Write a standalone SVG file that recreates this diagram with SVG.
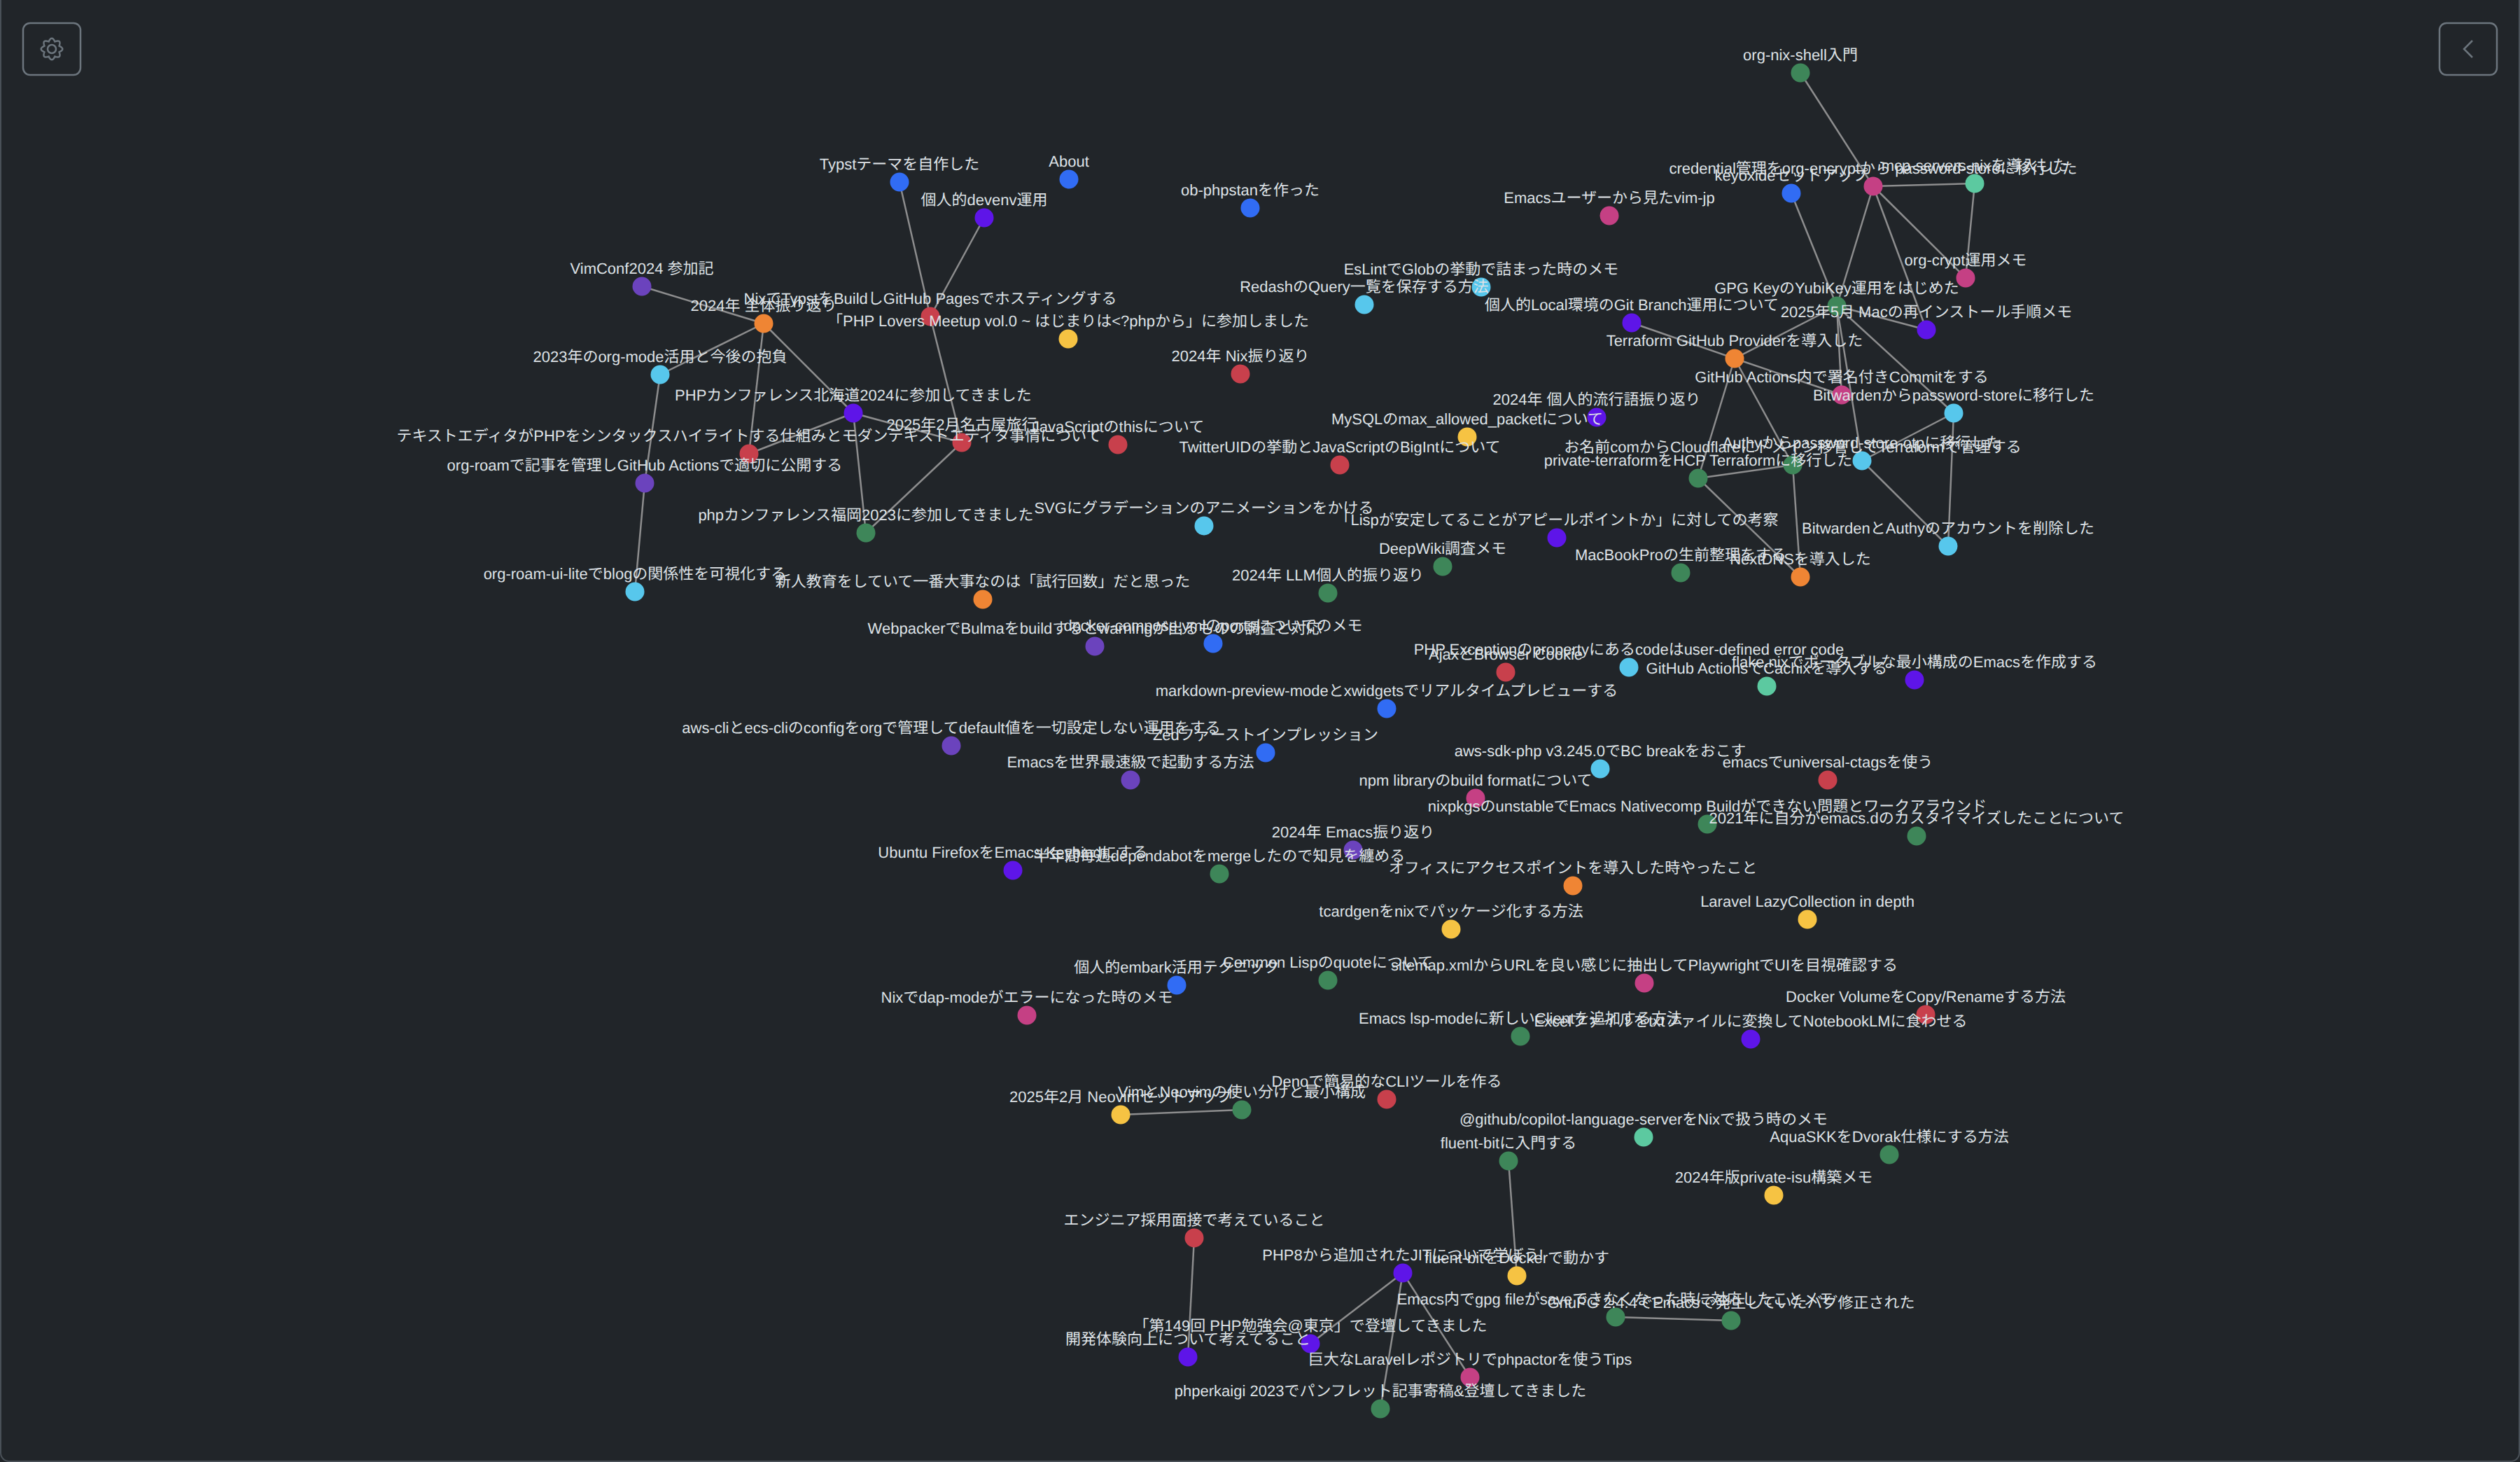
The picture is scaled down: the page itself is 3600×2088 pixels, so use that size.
<svg xmlns="http://www.w3.org/2000/svg" width="3600" height="2088" viewBox="0 0 3600 2088">
<style>
.bg{fill:#212529}
.frame{fill:none;stroke:#495057;stroke-width:2}
.btn{fill:none;stroke:#6c757d;stroke-width:2.5}
#links line{stroke:#999;stroke-width:2.5;stroke-opacity:.9}
.node circle{r:13.5px}
.node text{font-family:"Liberation Sans","Noto Sans CJK JP",sans-serif;font-size:22px;fill:#dee2e6;text-anchor:middle;text-rendering:geometricPrecision}
.blue{fill:#316cf4}.indigo{fill:#5e15e8}.purple{fill:#6b43bd}.pink{fill:#c54084}.red{fill:#c8404c}.orange{fill:#ef8534}.yellow{fill:#f6c343}.green{fill:#3e8659}.teal{fill:#5cc9a0}.cyan{fill:#57c7ec}
</style>
<rect class="bg" width="3600" height="2088"/>
<path class="frame" d="M1,0V2075a12,12 0 0 0 12,12H3587a12,12 0 0 0 12,-12V0"/>
<g id="settings-button"><rect class="btn" x="33" y="33" width="82" height="74" rx="10"/><path class="btn" transform="translate(74,70)" d="M10.6,-4.4Q20,0 10.6,4.4Q14.1,14.1 4.4,10.6Q0,20 -4.4,10.6Q-14.1,14.1 -10.6,4.4Q-20,0 -10.6,-4.4Q-14.1,-14.1 -4.4,-10.6Q0,-20 4.4,-10.6Q14.1,-14.1 10.6,-4.4Z"/><circle class="btn" cx="74" cy="70" r="6"/></g>
<g id="back-button"><rect class="btn" x="3485" y="33" width="82" height="74" rx="10"/><path class="btn" d="M3532,58L3520,70L3532,82"/></g>
<g id="links">
<line x1="917" y1="409" x2="1091" y2="462"/>
<line x1="943" y1="535" x2="1091" y2="462"/>
<line x1="1091" y1="462" x2="1070" y2="648"/>
<line x1="1091" y1="462" x2="1219" y2="590"/>
<line x1="1219" y1="590" x2="1070" y2="648"/>
<line x1="1219" y1="590" x2="1374" y2="632"/>
<line x1="1219" y1="590" x2="1237" y2="761"/>
<line x1="1374" y1="632" x2="1237" y2="761"/>
<line x1="1285" y1="260" x2="1329" y2="452"/>
<line x1="1406" y1="311" x2="1329" y2="452"/>
<line x1="1329" y1="452" x2="1374" y2="632"/>
<line x1="943" y1="535" x2="921" y2="690"/>
<line x1="921" y1="690" x2="907" y2="845"/>
<line x1="2572" y1="104" x2="2676" y2="266"/>
<line x1="2676" y1="266" x2="2821" y2="262"/>
<line x1="2821" y1="262" x2="2808" y2="397"/>
<line x1="2676" y1="266" x2="2808" y2="397"/>
<line x1="2676" y1="266" x2="2624" y2="437"/>
<line x1="2676" y1="266" x2="2752" y2="471"/>
<line x1="2559" y1="276" x2="2624" y2="437"/>
<line x1="2624" y1="437" x2="2752" y2="471"/>
<line x1="2624" y1="437" x2="2478" y2="512"/>
<line x1="2624" y1="437" x2="2631" y2="564"/>
<line x1="2624" y1="437" x2="2660" y2="658"/>
<line x1="2624" y1="437" x2="2791" y2="590"/>
<line x1="2331" y1="461" x2="2478" y2="512"/>
<line x1="2478" y1="512" x2="2631" y2="564"/>
<line x1="2478" y1="512" x2="2426" y2="683"/>
<line x1="2478" y1="512" x2="2561" y2="664"/>
<line x1="2426" y1="683" x2="2561" y2="664"/>
<line x1="2426" y1="683" x2="2572" y2="824"/>
<line x1="2561" y1="664" x2="2572" y2="824"/>
<line x1="2660" y1="658" x2="2791" y2="590"/>
<line x1="2660" y1="658" x2="2783" y2="780"/>
<line x1="2791" y1="590" x2="2783" y2="780"/>
<line x1="1601" y1="1592" x2="1774" y2="1585"/>
<line x1="2155" y1="1658" x2="2167" y2="1822"/>
<line x1="1706" y1="1768" x2="1697" y2="1938"/>
<line x1="2004" y1="1818" x2="1872" y2="1919"/>
<line x1="2004" y1="1818" x2="1972" y2="2012"/>
<line x1="2004" y1="1818" x2="2100" y2="1967"/>
<line x1="2308" y1="1881" x2="2473" y2="1886"/>
</g>
<g id="n01" class="node"><circle class="green" cx="2572" cy="104"/><text x="2572" y="86">org-nix-shell入門</text></g>
<g id="n02" class="node"><circle class="blue" cx="1527" cy="256"/><text x="1527" y="238">About</text></g>
<g id="n03" class="node"><circle class="blue" cx="1285" cy="260"/><text x="1285" y="242">Typstテーマを自作した</text></g>
<g id="n04" class="node"><circle class="teal" cx="2821" cy="262"/><text x="2821" y="244">mcp-servers-nixを導入した</text></g>
<g id="n05" class="node"><circle class="pink" cx="2676" cy="266"/><text x="2676" y="248">credential管理をorg-encryptから password-storeに移行した</text></g>
<g id="n06" class="node"><circle class="blue" cx="2559" cy="276"/><text x="2559" y="258">keyoxideセットアップ</text></g>
<g id="n07" class="node"><circle class="blue" cx="1786" cy="297"/><text x="1786" y="279">ob-phpstanを作った</text></g>
<g id="n08" class="node"><circle class="pink" cx="2299" cy="308"/><text x="2299" y="290">Emacsユーザーから見たvim-jp</text></g>
<g id="n09" class="node"><circle class="indigo" cx="1406" cy="311"/><text x="1406" y="293">個人的devenv運用</text></g>
<g id="n10" class="node"><circle class="pink" cx="2808" cy="397"/><text x="2808" y="379">org-crypt運用メモ</text></g>
<g id="n11" class="node"><circle class="purple" cx="917" cy="409"/><text x="917" y="391">VimConf2024 参加記</text></g>
<g id="n12" class="node"><circle class="cyan" cx="2116" cy="410"/><text x="2116" y="392">EsLintでGlobの挙動で詰まった時のメモ</text></g>
<g id="n13" class="node"><circle class="cyan" cx="1949" cy="435"/><text x="1949" y="417">RedashのQuery一覧を保存する方法</text></g>
<g id="n14" class="node"><circle class="green" cx="2624" cy="437"/><text x="2624" y="419">GPG KeyのYubiKey運用をはじめた</text></g>
<g id="n15" class="node"><circle class="red" cx="1329" cy="452"/><text x="1329" y="434">NixでTypstをBuildしGitHub Pagesでホスティングする</text></g>
<g id="n16" class="node"><circle class="indigo" cx="2331" cy="461"/><text x="2331" y="443">個人的Local環境のGit Branch運用について</text></g>
<g id="n17" class="node"><circle class="orange" cx="1091" cy="462"/><text x="1091" y="444">2024年 全体振り返り</text></g>
<g id="n18" class="node"><circle class="indigo" cx="2752" cy="471"/><text x="2752" y="453">2025年5月 Macの再インストール手順メモ</text></g>
<g id="n19" class="node"><circle class="yellow" cx="1526" cy="484"/><text x="1526" y="466">「PHP Lovers Meetup vol.0 ~ はじまりは&lt;?phpから」に参加しました</text></g>
<g id="n20" class="node"><circle class="orange" cx="2478" cy="512"/><text x="2478" y="494">Terraform GitHub Providerを導入した</text></g>
<g id="n21" class="node"><circle class="red" cx="1772" cy="534"/><text x="1772" y="516">2024年 Nix振り返り</text></g>
<g id="n22" class="node"><circle class="cyan" cx="943" cy="535"/><text x="943" y="517">2023年のorg-mode活用と今後の抱負</text></g>
<g id="n23" class="node"><circle class="pink" cx="2631" cy="564"/><text x="2631" y="546">GitHub Actions内で署名付きCommitをする</text></g>
<g id="n24" class="node"><circle class="indigo" cx="1219" cy="590"/><text x="1219" y="572">PHPカンファレンス北海道2024に参加してきました</text></g>
<g id="n25" class="node"><circle class="cyan" cx="2791" cy="590"/><text x="2791" y="572">Bitwardenからpassword-storeに移行した</text></g>
<g id="n26" class="node"><circle class="indigo" cx="2281" cy="596"/><text x="2281" y="578">2024年 個人的流行語振り返り</text></g>
<g id="n27" class="node"><circle class="yellow" cx="2096" cy="624"/><text x="2096" y="606">MySQLのmax_allowed_packetについて</text></g>
<g id="n28" class="node"><circle class="red" cx="1374" cy="632"/><text x="1374" y="614">2025年2月名古屋旅行</text></g>
<g id="n29" class="node"><circle class="red" cx="1597" cy="635"/><text x="1597" y="617">JavaScriptのthisについて</text></g>
<g id="n30" class="node"><circle class="red" cx="1070" cy="648"/><text x="1070" y="630">テキストエディタがPHPをシンタックスハイライトする仕組みとモダンテキストエディタ事情について</text></g>
<g id="n31" class="node"><circle class="cyan" cx="2660" cy="658"/><text x="2660" y="640">Authyからpassword-store-otpに移行した</text></g>
<g id="n32" class="node"><circle class="green" cx="2561" cy="664"/><text x="2561" y="646">お名前comからCloudflareにドメイン移管してTerraformで管理する</text></g>
<g id="n33" class="node"><circle class="red" cx="1914" cy="664"/><text x="1914" y="646">TwitterUIDの挙動とJavaScriptのBigIntについて</text></g>
<g id="n34" class="node"><circle class="green" cx="2426" cy="683"/><text x="2426" y="665">private-terraformをHCP Terraformに移行した</text></g>
<g id="n35" class="node"><circle class="purple" cx="921" cy="690"/><text x="921" y="672">org-roamで記事を管理しGitHub Actionsで適切に公開する</text></g>
<g id="n36" class="node"><circle class="cyan" cx="1720" cy="751"/><text x="1720" y="733">SVGにグラデーションのアニメーションをかける</text></g>
<g id="n37" class="node"><circle class="green" cx="1237" cy="761"/><text x="1237" y="743">phpカンファレンス福岡2023に参加してきました</text></g>
<g id="n38" class="node"><circle class="indigo" cx="2224" cy="768"/><text x="2224" y="750">「Lispが安定してることがアピールポイントか」に対しての考察</text></g>
<g id="n39" class="node"><circle class="cyan" cx="2783" cy="780"/><text x="2783" y="762">BitwardenとAuthyのアカウントを削除した</text></g>
<g id="n40" class="node"><circle class="green" cx="2061" cy="809"/><text x="2061" y="791">DeepWiki調査メモ</text></g>
<g id="n41" class="node"><circle class="green" cx="2401" cy="818"/><text x="2401" y="800">MacBookProの生前整理をする</text></g>
<g id="n42" class="node"><circle class="orange" cx="2572" cy="824"/><text x="2572" y="806">NextDNSを導入した</text></g>
<g id="n43" class="node"><circle class="cyan" cx="907" cy="845"/><text x="907" y="827">org-roam-ui-liteでblogの関係性を可視化する</text></g>
<g id="n44" class="node"><circle class="green" cx="1897" cy="847"/><text x="1897" y="829">2024年 LLM個人的振り返り</text></g>
<g id="n45" class="node"><circle class="orange" cx="1404" cy="856"/><text x="1404" y="838">新人教育をしていて一番大事なのは「試行回数」だと思った</text></g>
<g id="n46" class="node"><circle class="blue" cx="1733" cy="919"/><text x="1733" y="901">docker-compose.ymlのportsについてのメモ</text></g>
<g id="n47" class="node"><circle class="purple" cx="1564" cy="923"/><text x="1564" y="905">WebpackerでBulmaをbuildするとwarningが出るものの調査と対応</text></g>
<g id="n48" class="node"><circle class="cyan" cx="2327" cy="953"/><text x="2327" y="935">PHP Exceptionのpropertyにあるcodeはuser-defined error code</text></g>
<g id="n49" class="node"><circle class="red" cx="2151" cy="960"/><text x="2151" y="942">AjaxとBrowser Cookie</text></g>
<g id="n50" class="node"><circle class="indigo" cx="2735" cy="971"/><text x="2735" y="953">flake.nixでポータブルな最小構成のEmacsを作成する</text></g>
<g id="n51" class="node"><circle class="teal" cx="2524" cy="980"/><text x="2524" y="962">GitHub ActionsでCachixを導入する</text></g>
<g id="n52" class="node"><circle class="blue" cx="1981" cy="1012"/><text x="1981" y="994">markdown-preview-modeとxwidgetsでリアルタイムプレビューする</text></g>
<g id="n53" class="node"><circle class="purple" cx="1359" cy="1065"/><text x="1359" y="1047">aws-cliとecs-cliのconfigをorgで管理してdefault値を一切設定しない運用をする</text></g>
<g id="n54" class="node"><circle class="blue" cx="1808" cy="1075"/><text x="1808" y="1057">Zedファーストインプレッション</text></g>
<g id="n55" class="node"><circle class="cyan" cx="2286" cy="1098"/><text x="2286" y="1080">aws-sdk-php v3.245.0でBC breakをおこす</text></g>
<g id="n56" class="node"><circle class="purple" cx="1615" cy="1114"/><text x="1615" y="1096">Emacsを世界最速級で起動する方法</text></g>
<g id="n57" class="node"><circle class="red" cx="2611" cy="1114"/><text x="2611" y="1096">emacsでuniversal-ctagsを使う</text></g>
<g id="n58" class="node"><circle class="pink" cx="2108" cy="1140"/><text x="2108" y="1122">npm libraryのbuild formatについて</text></g>
<g id="n59" class="node"><circle class="green" cx="2439" cy="1177"/><text x="2439" y="1159">nixpkgsのunstableでEmacs Nativecomp Buildができない問題とワークアラウンド</text></g>
<g id="n60" class="node"><circle class="green" cx="2738" cy="1194"/><text x="2738" y="1176">2021年に自分がemacs.dのカスタイマイズしたことについて</text></g>
<g id="n61" class="node"><circle class="purple" cx="1933" cy="1214"/><text x="1933" y="1196">2024年 Emacs振り返り</text></g>
<g id="n62" class="node"><circle class="indigo" cx="1447" cy="1243"/><text x="1447" y="1225">Ubuntu FirefoxをEmacs Keybindにする</text></g>
<g id="n63" class="node"><circle class="green" cx="1742" cy="1248"/><text x="1742" y="1230">半年間毎週dependabotをmergeしたので知見を纏める</text></g>
<g id="n64" class="node"><circle class="orange" cx="2247" cy="1265"/><text x="2247" y="1247">オフィスにアクセスポイントを導入した時やったこと</text></g>
<g id="n65" class="node"><circle class="yellow" cx="2582" cy="1313"/><text x="2582" y="1295">Laravel LazyCollection in depth</text></g>
<g id="n66" class="node"><circle class="yellow" cx="2073" cy="1327"/><text x="2073" y="1309">tcardgenをnixでパッケージ化する方法</text></g>
<g id="n67" class="node"><circle class="green" cx="1897" cy="1400"/><text x="1897" y="1382">Common Lispのquoteについて</text></g>
<g id="n68" class="node"><circle class="pink" cx="2349" cy="1404"/><text x="2349" y="1386">sitemap.xmlからURLを良い感じに抽出してPlaywrightでUIを目視確認する</text></g>
<g id="n69" class="node"><circle class="blue" cx="1681" cy="1407"/><text x="1681" y="1389">個人的embark活用テクニック</text></g>
<g id="n70" class="node"><circle class="red" cx="2751" cy="1449"/><text x="2751" y="1431">Docker VolumeをCopy/Renameする方法</text></g>
<g id="n71" class="node"><circle class="pink" cx="1467" cy="1450"/><text x="1467" y="1432">Nixでdap-modeがエラーになった時のメモ</text></g>
<g id="n72" class="node"><circle class="green" cx="2172" cy="1480"/><text x="2172" y="1462">Emacs lsp-modeに新しいClientを追加する方法</text></g>
<g id="n73" class="node"><circle class="indigo" cx="2501" cy="1484"/><text x="2501" y="1466">Excelファイルをtxtファイルに変換してNotebookLMに食わせる</text></g>
<g id="n74" class="node"><circle class="red" cx="1981" cy="1570"/><text x="1981" y="1552">Denoで簡易的なCLIツールを作る</text></g>
<g id="n75" class="node"><circle class="green" cx="1774" cy="1585"/><text x="1774" y="1567">VimとNeovimの使い分けと最小構成</text></g>
<g id="n76" class="node"><circle class="yellow" cx="1601" cy="1592"/><text x="1601" y="1574">2025年2月 Neovimセットアップ</text></g>
<g id="n77" class="node"><circle class="teal" cx="2348" cy="1624"/><text x="2348" y="1606">@github/copilot-language-serverをNixで扱う時のメモ</text></g>
<g id="n78" class="node"><circle class="green" cx="2699" cy="1649"/><text x="2699" y="1631">AquaSKKをDvorak仕様にする方法</text></g>
<g id="n79" class="node"><circle class="green" cx="2155" cy="1658"/><text x="2155" y="1640">fluent-bitに入門する</text></g>
<g id="n80" class="node"><circle class="yellow" cx="2534" cy="1707"/><text x="2534" y="1689">2024年版private-isu構築メモ</text></g>
<g id="n81" class="node"><circle class="red" cx="1706" cy="1768"/><text x="1706" y="1750">エンジニア採用面接で考えていること</text></g>
<g id="n82" class="node"><circle class="indigo" cx="2004" cy="1818"/><text x="2004" y="1800">PHP8から追加されたJITについて学ぼう!</text></g>
<g id="n83" class="node"><circle class="yellow" cx="2167" cy="1822"/><text x="2167" y="1804">fluent-bitをDockerで動かす</text></g>
<g id="n84" class="node"><circle class="green" cx="2308" cy="1881"/><text x="2308" y="1863">Emacs内でgpg fileがsaveできなくなった時に対応したことメモ</text></g>
<g id="n85" class="node"><circle class="green" cx="2473" cy="1886"/><text x="2473" y="1868">GnuPG 2.4.4でEmacsで発生していたバグ修正された</text></g>
<g id="n86" class="node"><circle class="indigo" cx="1872" cy="1919"/><text x="1872" y="1901">「第149回 PHP勉強会@東京」で登壇してきました</text></g>
<g id="n87" class="node"><circle class="indigo" cx="1697" cy="1938"/><text x="1697" y="1920">開発体験向上について考えてること</text></g>
<g id="n88" class="node"><circle class="pink" cx="2100" cy="1967"/><text x="2100" y="1949">巨大なLaravelレポジトリでphpactorを使うTips</text></g>
<g id="n89" class="node"><circle class="green" cx="1972" cy="2012"/><text x="1972" y="1994">phperkaigi 2023でパンフレット記事寄稿&amp;登壇してきました</text></g>
</svg>
